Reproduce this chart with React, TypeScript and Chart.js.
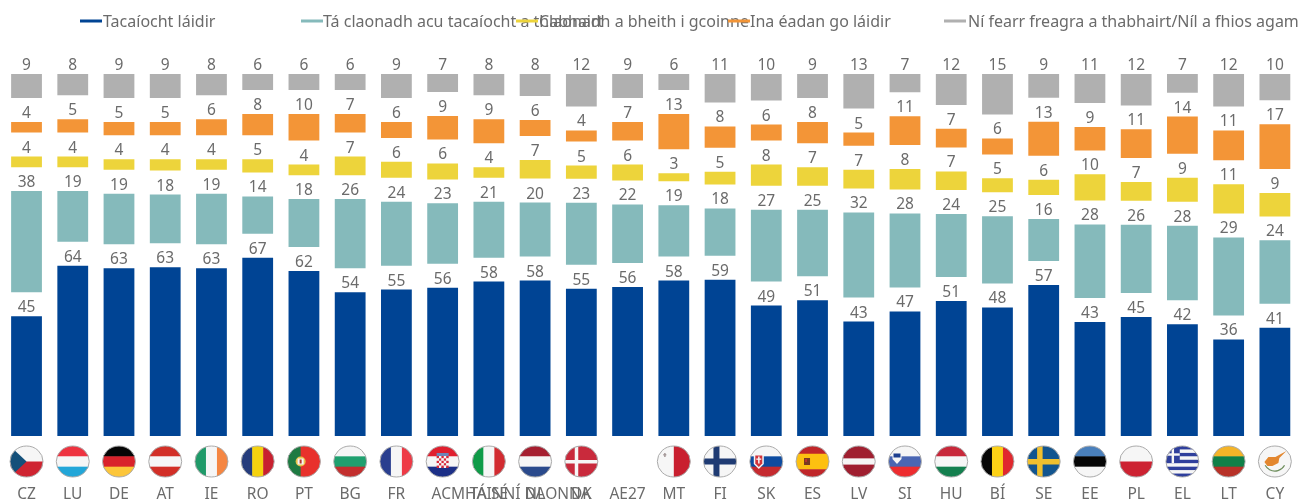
import React, { useEffect, useRef } from "react";
import { Chart, registerables } from "chart.js";

Chart.register(...registerables);

const categories = ["CZ","LU","DE","AT","IE","RO","PT","BG","FR","ACMHAINNÍ DAONNA","TÁ SÉ","NL","DK","AE27","MT","FI","SK","ES","LV","SI","HU","BÍ","SE","EE","PL","EL","LT","CY"];
const flagCodes = ["CZ","LU","DE","AT","IE","RO","PT","BG","FR","HR","IT","NL","DK","","MT","FI","SK","ES","LV","SI","HU","BE","SE","EE","PL","EL","LT","CY"];
const strongSupport = [45,64,63,63.4,63,67,62,54,55,55.7,58,58.4,55.3,56,58.4,58.7,49,51,43,46.8,50.7,48.3,56.7,42.8,44.7,42,36.3,40.7];
const leanSupport = [38,19,19,18.3,19,14,18,26,24,22.7,21,20.3,23.3,22,19.3,17.8,27,25,32,27.8,23.7,25.3,15.8,27.7,25.7,28,29.3,23.8];
const leanOppose = [4,4,4,4.3,4,5,4,7,6,6,4,7,5,6,3,4.8,8,7,7,7.7,7,5.2,5.8,9.8,7,9,11,8.8];
const strongOppose = [4,5,5,5,6,8,10,7,6,8.8,9,6,4.2,7,13.3,8,6,8,5,10.8,7,6,12.8,8.8,10.8,14,11.2,16.8];
const dontKnow = [9,8,9,9,8,6,6,6,9,6.8,8,8.3,12.2,9,6,10.7,10,9,13,6.9,11.6,15.2,8.9,10.9,11.8,7,12.2,9.9];
const spacer = [9,9,9,9,9,9,9,9,9,9,9,9,9,9,9,9,9,9,9,9,9,9,9,9,9,9,9,9];
const seriesNames = ["Tacaíocht láidir","Tá claonadh acu tacaíocht a thabhairt","Claonadh a bheith i gcoinne","Ina éadan go láidir","Ní fearr freagra a thabhairt/Níl a fhios agam"];
const seriesColors = ["#004494","#85BABB","#EDD43B","#F39537","#B0B0B0"];
const legendSwatchX = [80,301,516,728,944];
const legendTextX = [103,323,539,750,968];

const FONT = '"Noto Sans"';
const TEXT = "#6b6b6b";
const FONT_SIZE = 15.5;
const LEGEND_FONT_SIZE = 16;

type Ctx = CanvasRenderingContext2D;
const H = (c: Ctx, x: number, y: number, w: number, h: number, cols: string[], weights?: number[]) => {
  const ws = weights || cols.map(() => 1);
  const tot = ws.reduce((a, b) => a + b, 0);
  let p = y;
  cols.forEach((col, i) => { const s = (h * ws[i]) / tot; c.fillStyle = col; c.fillRect(x, p, w, s + 0.5); p += s; });
};
const V = (c: Ctx, x: number, y: number, w: number, h: number, cols: string[], weights?: number[]) => {
  const ws = weights || cols.map(() => 1);
  const tot = ws.reduce((a, b) => a + b, 0);
  let p = x;
  cols.forEach((col, i) => { const s = (w * ws[i]) / tot; c.fillStyle = col; c.fillRect(p, y, s + 0.5, h); p += s; });
};
const W = "#f6f6f6";

const flagPainters: Record<string, (c: Ctx, x: number, y: number, w: number, h: number) => void> = {
  CZ: (c, x, y, w, h) => {
    H(c, x, y, w, h, [W, "#cf2431"]);
    c.fillStyle = "#14507a"; c.beginPath(); c.moveTo(x, y); c.lineTo(x + w * 0.5, y + h / 2); c.lineTo(x, y + h); c.closePath(); c.fill();
  },
  LU: (c, x, y, w, h) => H(c, x, y, w, h, ["#ee3340", W, "#22a6d8"]),
  DE: (c, x, y, w, h) => H(c, x, y, w, h, ["#050505", "#d9222b", "#fcc63a"]),
  AT: (c, x, y, w, h) => H(c, x, y, w, h, ["#d22f27", W, "#d22f27"]),
  IE: (c, x, y, w, h) => V(c, x, y, w, h, ["#1f9a69", W, "#f58642"]),
  RO: (c, x, y, w, h) => V(c, x, y, w, h, ["#253c7c", "#f5d20f", "#c8202f"]),
  PT: (c, x, y, w, h) => {
    V(c, x, y, w, h, ["#1e7a42", "#e8312c"], [2, 3]);
    c.fillStyle = "#e9c24a"; c.beginPath(); c.arc(x + w * 0.4, y + h / 2, 5, 0, 7); c.fill();
    c.fillStyle = W; c.fillRect(x + w * 0.4 - 3, y + h / 2 - 3, 6, 6);
    c.fillStyle = "#b8352f"; c.fillRect(x + w * 0.4 - 1, y + h / 2 - 2, 2, 4);
  },
  BG: (c, x, y, w, h) => H(c, x, y, w, h, [W, "#1fa06f", "#c32f2e"]),
  FR: (c, x, y, w, h) => V(c, x, y, w, h, ["#2a3f8f", W, "#ee3a46"]),
  HR: (c, x, y, w, h) => {
    H(c, x, y, w, h, ["#e0202f", W, "#1c2f87"]);
    const cx = x + w / 2, s = 2.4;
    c.fillStyle = "#6d86b8"; c.fillRect(cx - 6, y + 7, 12, 3);
    for (let r = 0; r < 5; r++) for (let q = 0; q < 5; q++) {
      c.fillStyle = (r + q) % 2 ? W : "#d8283a";
      c.fillRect(cx - 6 + q * s, y + 10 + r * s, s, s);
    }
  },
  IT: (c, x, y, w, h) => V(c, x, y, w, h, ["#0f9b48", W, "#d22b30"]),
  NL: (c, x, y, w, h) => H(c, x, y, w, h, ["#a61f30", W, "#2a4a8c"]),
  DK: (c, x, y, w, h) => {
    c.fillStyle = "#c92a3c"; c.fillRect(x, y, w, h);
    c.fillStyle = W; c.fillRect(x + w * 0.3, y, 3.5, h); c.fillRect(x, y + h / 2 - 1.5, w, 3.5);
  },
  MT: (c, x, y, w, h) => {
    V(c, x, y, w, h, [W, "#c91f2f"]);
    c.fillStyle = "#a59a9a"; c.fillRect(x + 6, y + 8, 3, 1.5); c.fillRect(x + 6.8, y + 7, 1.5, 4);
  },
  FI: (c, x, y, w, h) => {
    c.fillStyle = W; c.fillRect(x, y, w, h);
    c.fillStyle = "#1f3b73"; c.fillRect(x + w * 0.3, y, 6, h); c.fillRect(x, y + h / 2 - 3, w, 6);
  },
  SK: (c, x, y, w, h) => {
    H(c, x, y, w, h, [W, "#0d4ba0", "#c52a2f"]);
    c.fillStyle = W; c.beginPath(); c.moveTo(x + 4, y + 8); c.lineTo(x + 14, y + 8); c.lineTo(x + 14, y + 18); c.lineTo(x + 9, y + 23); c.lineTo(x + 4, y + 18); c.closePath(); c.fill();
    c.fillStyle = "#d2333a"; c.beginPath(); c.moveTo(x + 5.5, y + 9.5); c.lineTo(x + 12.5, y + 9.5); c.lineTo(x + 12.5, y + 17.5); c.lineTo(x + 9, y + 21); c.lineTo(x + 5.5, y + 17.5); c.closePath(); c.fill();
    c.fillStyle = W; c.fillRect(x + 8.3, y + 10.5, 1.5, 7); c.fillRect(x + 6.5, y + 12.5, 5, 1.3);
  },
  ES: (c, x, y, w, h) => {
    H(c, x, y, w, h, ["#c0262a", "#fdc010", "#c0262a"], [1, 2, 1]);
    c.fillStyle = "#7a3a22"; c.fillRect(x + 8, y + 12, 6, 7);
    c.fillStyle = "#b8352f"; c.fillRect(x + 9, y + 13, 2, 3);
  },
  LV: (c, x, y, w, h) => H(c, x, y, w, h, ["#a01f30", W, "#a01f30"], [2, 1, 2]),
  SI: (c, x, y, w, h) => {
    H(c, x, y, w, h, [W, "#4a66b3", "#ed2c2f"]);
    c.fillStyle = W; c.fillRect(x + 4, y + 7, 9, 6);
    c.beginPath(); c.moveTo(x + 4, y + 13); c.lineTo(x + 13, y + 13); c.lineTo(x + 8.5, y + 18); c.closePath(); c.fill();
    c.fillStyle = "#1d3f8f"; c.fillRect(x + 5, y + 7.5, 7, 4);
  },
  HU: (c, x, y, w, h) => H(c, x, y, w, h, ["#c8283a", W, "#14804f"]),
  BE: (c, x, y, w, h) => V(c, x, y, w, h, ["#060606", "#fcd116", "#e0282e"]),
  SE: (c, x, y, w, h) => {
    c.fillStyle = "#12558f"; c.fillRect(x, y, w, h);
    c.fillStyle = "#f0c02e"; c.fillRect(x + w * 0.3, y, 5.5, h); c.fillRect(x, y + h / 2 - 2.5, w, 5.5);
  },
  EE: (c, x, y, w, h) => H(c, x, y, w, h, ["#4a80bc", "#060606", W]),
  PL: (c, x, y, w, h) => H(c, x, y, w, h, [W, "#cd2232"]),
  EL: (c, x, y, w, h) => {
    H(c, x, y, w, h, ["#2f3f9c", W, "#2f3f9c", W, "#2f3f9c", W, "#2f3f9c", W, "#2f3f9c"]);
    c.fillStyle = "#2f3f9c"; c.fillRect(x, y, w * 0.42, h * 0.55);
    c.fillStyle = W; c.fillRect(x + w * 0.42 / 2 - 1.2, y, 2.4, h * 0.55); c.fillRect(x, y + h * 0.275 - 1.2, w * 0.42, 2.4);
  },
  LT: (c, x, y, w, h) => H(c, x, y, w, h, ["#f4b428", "#108048", "#b83228"]),
  CY: (c, x, y, w, h) => {
    c.fillStyle = W; c.fillRect(x, y, w, h);
    c.fillStyle = "#e3872f"; c.beginPath();
    c.moveTo(x + 6, y + 16); c.lineTo(x + 10, y + 11); c.lineTo(x + 17, y + 11); c.lineTo(x + 28, y + 5); c.lineTo(x + 21, y + 12);
    c.lineTo(x + 20, y + 17); c.lineTo(x + 14, y + 20); c.lineTo(x + 9, y + 20); c.closePath(); c.fill();
    c.strokeStyle = "#6f8f5e"; c.lineWidth = 1.2; c.beginPath(); c.arc(x + w / 2, y + 14, 11, 0.5, 2.65); c.stroke();
  },
};

const flagPlugin = {
  id: "flags",
  afterDatasetsDraw(chart: any) {
    const c: Ctx = chart.ctx;
    const sx = chart.scales.x;
    const rx = 16.5, ry = 15.5, cy = 461.5;
    flagCodes.forEach((code, i) => {
      if (!code) return;
      const cx = sx.getPixelForValue(i);
      c.save();
      c.beginPath(); c.ellipse(cx, cy, rx, ry, 0, 0, Math.PI * 2); c.clip();
      flagPainters[code](c, cx - rx, cy - ry, rx * 2, ry * 2);
      c.restore();
      c.beginPath(); c.ellipse(cx, cy, rx, ry, 0, 0, Math.PI * 2);
      c.strokeStyle = "#aaaaaa"; c.lineWidth = 1; c.stroke();
    });
  },
};

const valueLabelPlugin = {
  id: "valueLabels",
  afterDatasetsDraw(chart: any) {
    const c: Ctx = chart.ctx;
    c.save();
    c.font = `${FONT_SIZE}px ${FONT}`; c.fillStyle = TEXT; c.textAlign = "center"; c.textBaseline = "alphabetic";
    chart.data.datasets.forEach((ds: any, di: number) => {
      if (!ds.label) return;
      chart.getDatasetMeta(di).data.forEach((bar: any, i: number) => {
        c.fillText(String(Math.round(ds.data[i])), bar.x, bar.y - 4);
      });
    });
    c.restore();
  },
};

const legendPlugin = {
  id: "overlapLegend",
  afterDraw(chart: any) {
    const c: Ctx = chart.ctx;
    c.save();
    c.font = `${LEGEND_FONT_SIZE}px ${FONT}`; c.textAlign = "left"; c.textBaseline = "middle";
    seriesNames.forEach((name, i) => {
      c.fillStyle = seriesColors[i];
      c.fillRect(legendSwatchX[i], 19.5, 22, 3);
      c.fillStyle = TEXT;
      c.fillText(name, legendTextX[i], 22);
    });
    c.restore();
  },
};

const series = [strongSupport, leanSupport, leanOppose, strongOppose, dontKnow];

export default function App() {
  const ref = useRef<HTMLCanvasElement>(null);
  useEffect(() => {
    const datasets: any[] = [];
    series.forEach((data, i) => {
      datasets.push({ label: seriesNames[i], data, backgroundColor: seriesColors[i], barPercentage: 0.666, categoryPercentage: 1 });
      if (i < series.length - 1) datasets.push({ data: spacer, backgroundColor: "rgba(0,0,0,0)", barPercentage: 0.666, categoryPercentage: 1 });
    });
    const chart = new Chart(ref.current!, {
      type: "bar",
      data: { labels: categories, datasets },
      plugins: [flagPlugin, valueLabelPlugin, legendPlugin],
      options: {
        responsive: false,
        animation: false,
        layout: { padding: { left: 3.4, right: 14, top: 74, bottom: 0 } },
        plugins: { legend: { display: false }, tooltip: { enabled: false } },
        scales: {
          x: {
            stacked: true,
            grid: { display: false, drawTicks: false },
            border: { display: false },
            afterFit: (s: any) => { s.height = 64; s.paddingLeft = 0; s.paddingRight = 0; },
            ticks: {
              autoSkip: false, maxRotation: 0, minRotation: 0, padding: 49, color: TEXT,
              font: { family: FONT, size: FONT_SIZE },
              callback(this: any, v: any) {
                const t = categories[v];
                return t.length > 6 ? "\u00a0".repeat(34) + t : t;
              },
            },
          },
          y: { stacked: true, display: false, min: 0, max: 136 },
        },
      } as any,
    });
    return () => chart.destroy();
  }, []);
  return (
    <div style={{ position: "absolute", left: 0, top: 0 }}>
      <canvas ref={ref} width={1312} height={500} style={{ display: "block", width: 1312, height: 500 }} />
    </div>
  );
}
